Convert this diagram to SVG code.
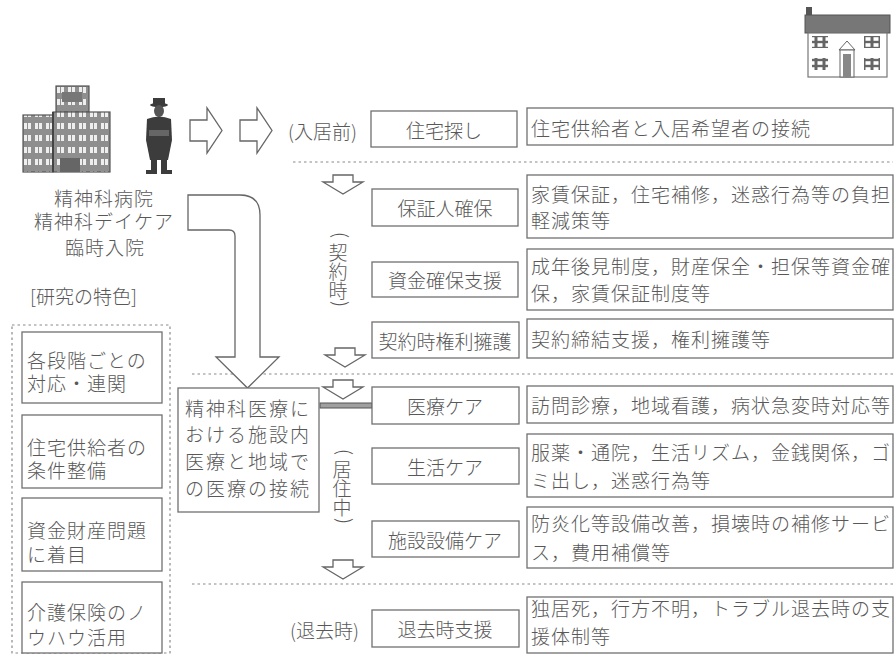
<svg xmlns="http://www.w3.org/2000/svg" width="896" height="655" viewBox="0 0 896 655">
<defs>
<style>
text{font-family:"Noto Sans CJK JP","Noto Sans",sans-serif;font-size:19px;fill:#585858;font-weight:300;dominant-baseline:central}
.sp{letter-spacing:1px}
.c{text-anchor:middle}
.v{font-size:18px}
.box{fill:#fff;stroke:#707070;stroke-width:1.3}
.sep{fill:none;stroke:#8a8a8a;stroke-width:1.2;stroke-dasharray:2.5 3}
.arr{fill:#fff;stroke:#666;stroke-width:1.3;stroke-linejoin:miter}
</style>
<path id="down" d="M-10,0 H10 V7 H20 L0,19 L-20,7 H-10 Z"/>
<path id="right" d="M0,12 H17 V0 L32,22.5 L17,45 V33 H0 Z"/>
<pattern id="win" width="11" height="12" patternUnits="userSpaceOnUse">
<rect width="11" height="12" fill="#8e8e8e"/>
<rect x="2" y="3" width="3" height="6" fill="#eee"/>
<rect x="6" y="3" width="3" height="6" fill="#eee"/>
</pattern>
<pattern id="hwin" width="8" height="6" patternUnits="userSpaceOnUse">
<rect width="8" height="6" fill="#666"/>
<rect x="1.5" y="1.2" width="5" height="3.6" fill="#fff"/>
</pattern>
</defs>
<rect width="896" height="655" fill="#fff"/>

<!-- hospital building -->
<g id="hospital">
<rect x="56" y="86" width="33" height="26" fill="url(#win)" stroke="#555" stroke-width="1.2"/>
<rect x="23" y="115" width="30" height="57" fill="url(#win)" stroke="#555" stroke-width="1.2"/>
<rect x="53" y="112" width="57" height="60" fill="url(#win)" stroke="#555" stroke-width="1.2"/>
<rect x="62" y="92" width="20" height="10" fill="#777"/>
<rect x="60" y="158" width="20" height="14" fill="#666"/>
<line x1="53" y1="112" x2="53" y2="172" stroke="#444" stroke-width="2"/>
</g>

<!-- person -->
<g id="person" fill="#3c3c3c">
<rect x="153" y="98" width="12" height="7"/>
<ellipse cx="159" cy="105" rx="9" ry="2.2"/>
<ellipse cx="159" cy="111" rx="5" ry="6" fill="#555"/>
<path d="M147,119 Q159,114 171,119 L172,140 L168,160 H150 L146,140 Z"/>
<path d="M149,130 H169 V136 H149 Z" fill="#666"/>
<rect x="151" y="158" width="6" height="14"/>
<rect x="161" y="158" width="6" height="14"/>
<rect x="146" y="170" width="11" height="4"/>
<rect x="161" y="170" width="11" height="4"/>
</g>

<!-- house -->
<g id="house">
<rect x="806" y="7" width="6" height="9" fill="#555"/>
<rect x="805" y="15" width="85" height="18" fill="#777" stroke="#555"/>
<rect x="808" y="33" width="79" height="44" fill="#fff" stroke="#777" stroke-width="1.2"/>
<rect x="812" y="36" width="16" height="12" fill="url(#hwin)"/>
<rect x="864" y="36" width="16" height="12" fill="url(#hwin)"/>
<rect x="812" y="58" width="16" height="12" fill="url(#hwin)"/>
<rect x="864" y="58" width="16" height="12" fill="url(#hwin)"/>
<path d="M839,50 L847,41 L855,50 Z" fill="#fff" stroke="#666"/>
<rect x="840" y="50" width="14" height="27" fill="#fff" stroke="#666"/>
<rect x="843" y="54" width="8" height="23" fill="#888"/>
</g>

<g id="origin-label">
<text class="c sp" x="104" y="197">精神科病院</text>
<text class="c sp" x="104" y="220">精神科デイケア</text>
<text class="c sp" x="105" y="246">臨時入院</text>
</g>

<!-- stage separators -->
<g id="separators">
<line class="sep" x1="293" y1="162" x2="893" y2="162"/>
<line class="sep" x1="192" y1="374" x2="893" y2="374"/>
<line class="sep" x1="192" y1="584" x2="893" y2="584"/>
</g>

<!-- connectors -->
<g id="connectors">
<use href="#right" class="arr" x="190" y="108"/>
<use href="#right" class="arr" x="240" y="108"/>
<path class="arr" d="M188,195 H240 Q260,195 260,215 V357 H279 L247.5,388 L216,357 H235 V236 Q235,230 229,230 H188 Z"/>
<use href="#down" class="arr" x="343" y="175"/>
<use href="#down" class="arr" x="345" y="348"/>
<use href="#down" class="arr" x="343" y="380"/>
<use href="#down" class="arr" x="343" y="560"/>
<rect x="320" y="403" width="52" height="5" fill="#a0a0a0" stroke="#555" stroke-width="1"/>
</g>

<!-- stage labels -->
<g id="stage-labels">
<text x="288" y="130">(入居前)</text>
<text x="290" y="629">(退去時)</text>
<g class="c v">
<text x="342" y="235" transform="rotate(90 342 235)">(</text>
<text x="338" y="251">契</text>
<text x="338" y="270">約</text>
<text x="338" y="289">時</text>
<text x="342" y="304" transform="rotate(90 342 304)">)</text>
<text x="346" y="452" transform="rotate(90 346 452)">(</text>
<text x="342" y="468">居</text>
<text x="342" y="487">住</text>
<text x="342" y="506">中</text>
<text x="346" y="521" transform="rotate(90 346 521)">)</text>
</g>
</g>

<!-- support items -->
<g id="n-search"><rect class="box" x="371" y="111" width="146" height="36"/><text class="c" x="444" y="129">住宅探し</text></g>
<g id="n-search-d"><rect class="box" x="527" y="108" width="366" height="37"/><text class="sp" x="531" y="127">住宅供給者と入居希望者の接続</text></g>

<g id="n-guarantor"><rect class="box" x="372" y="189" width="146" height="37"/><text class="c" x="445" y="207">保証人確保</text></g>
<g id="n-guarantor-d"><rect class="box" x="527" y="175" width="366" height="63"/><text class="sp" x="531" y="193">家賃保証，住宅補修，迷惑行為等の負担</text><text class="sp" x="531" y="219">軽減策等</text></g>

<g id="n-funds"><rect class="box" x="372" y="262" width="146" height="35"/><text class="c" x="445" y="279">資金確保支援</text></g>
<g id="n-funds-d"><rect class="box" x="527" y="249" width="366" height="61"/><text class="sp" x="531" y="265">成年後見制度，財産保全・担保等資金確</text><text class="sp" x="531" y="292">保，家賃保証制度等</text></g>

<g id="n-rights"><rect class="box" x="372" y="322" width="147" height="36"/><text class="c" x="445" y="340">契約時権利擁護</text></g>
<g id="n-rights-d"><rect class="box" x="527" y="319" width="366" height="39"/><text class="sp" x="531" y="338">契約締結支援，権利擁護等</text></g>

<g id="n-medical"><rect class="box" x="372" y="387" width="147" height="37"/><text class="c" x="445" y="405">医療ケア</text></g>
<g id="n-medical-d"><rect class="box" x="527" y="386" width="366" height="37"/><text class="sp" x="531" y="404">訪問診療，地域看護，病状急変時対応等</text></g>

<g id="n-life"><rect class="box" x="372" y="448" width="147" height="36"/><text class="c" x="445" y="466">生活ケア</text></g>
<g id="n-life-d"><rect class="box" x="527" y="434" width="366" height="63"/><text class="sp" x="531" y="451">服薬・通院，生活リズム，金銭関係，ゴ</text><text class="sp" x="531" y="479">ミ出し，迷惑行為等</text></g>

<g id="n-facility"><rect class="box" x="372" y="521" width="147" height="36"/><text class="c" x="445" y="539">施設設備ケア</text></g>
<g id="n-facility-d"><rect class="box" x="527" y="507" width="366" height="61"/><text class="sp" x="531" y="522">防炎化等設備改善，損壊時の補修サービ</text><text class="sp" x="531" y="551">ス，費用補償等</text></g>

<g id="n-leave"><rect class="box" x="372" y="610" width="147" height="37"/><text class="c" x="445" y="628">退去時支援</text></g>
<g id="n-leave-d"><rect class="box" x="527" y="597" width="366" height="56"/><text class="sp" x="531" y="607">独居死，行方不明，トラブル退去時の支</text><text class="sp" x="531" y="635">援体制等</text></g>

<!-- medical link box -->
<g id="n-link">
<rect class="box" x="178" y="388" width="141" height="124"/>
<g style="letter-spacing:2px">
<text x="185" y="407">精神科医療に</text>
<text x="185" y="433">おける施設内</text>
<text x="185" y="460">医療と地域で</text>
<text x="185" y="487">の医療の接続</text>
</g>
</g>

<!-- research features -->
<g id="features">
<text x="30" y="295">[研究の特色]</text>
<rect x="12" y="325" width="158" height="328" fill="none" stroke="#8a8a8a" stroke-width="1.2" stroke-dasharray="2.5 3"/>
<g id="f1"><rect class="box" x="22" y="332" width="140" height="71"/><text class="sp" x="27" y="359">各段階ごとの</text><text class="sp" x="27" y="382">対応・連関</text></g>
<g id="f2"><rect class="box" x="22" y="415" width="140" height="73"/><text class="sp" x="27" y="446">住宅供給者の</text><text class="sp" x="27" y="469">条件整備</text></g>
<g id="f3"><rect class="box" x="22" y="498" width="140" height="73"/><text class="sp" x="27" y="529">資金財産問題</text><text class="sp" x="27" y="553">に着目</text></g>
<g id="f4"><rect class="box" x="22" y="582" width="140" height="71"/><text class="sp" x="27" y="611">介護保険のノ</text><text class="sp" x="27" y="636">ウハウ活用</text></g>
</g>
</svg>
